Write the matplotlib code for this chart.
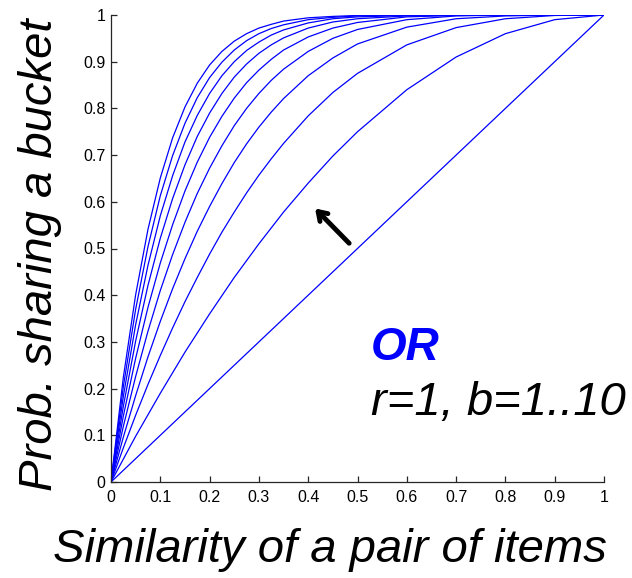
# OR-construction curves: probability of sharing a bucket, r=1, b=1..10

# libraries
import matplotlib
matplotlib.use('Agg')
import matplotlib.pyplot as plt

# similarity values (x axis)
sim = [0, 0.025, 0.05, 0.075, 0.1, 0.125, 0.15, 0.175, 0.2, 0.225, 0.25,
       0.275, 0.3, 0.325, 0.35, 0.4, 0.45, 0.5, 0.6, 0.7, 0.8, 0.9, 1.0]

# probability of sharing a bucket, one list per b
b1 = [0, .025, .05, .075, .1, .125, .15, .175, .2, .225, .25,
      .275, .3, .325, .35, .4, .45, .5, .6, .7, .8, .9, 1]
b2 = [0, .049, .098, .144, .19, .234, .278, .319, .36, .399, .438,
      .474, .51, .544, .578, .64, .698, .75, .84, .91, .96, .99, 1]
b3 = [0, .073, .143, .209, .271, .330, .386, .438, .488, .535, .578,
      .619, .657, .692, .725, .784, .834, .875, .936, .973, .992, .999, 1]
b4 = [0, .096, .185, .268, .344, .414, .478, .537, .590, .639, .684,
      .724, .760, .792, .821, .870, .908, .938, .974, .992, .998, 1, 1]
b5 = [0, .119, .226, .323, .410, .487, .556, .618, .672, .720, .763,
      .800, .832, .860, .884, .922, .950, .969, .990, .998, 1, 1, 1]
b6 = [0, .141, .265, .374, .469, .551, .623, .685, .738, .783, .822,
      .855, .882, .905, .925, .953, .972, .984, .996, .999, 1, 1, 1]
b7 = [0, .162, .302, .421, .522, .607, .679, .740, .790, .832, .867,
      .895, .918, .936, .951, .972, .985, .992, .998, 1, 1, 1, 1]
b8 = [0, .183, .337, .464, .570, .656, .728, .785, .832, .870, .900,
      .924, .942, .957, .968, .983, .992, .996, .999, 1, 1, 1, 1]
b9 = [0, .204, .370, .504, .613, .699, .768, .823, .866, .899, .925,
      .945, .960, .971, .979, .990, .995, .998, 1, 1, 1, 1, 1]
b10 = [0, .224, .401, .541, .651, .737, .803, .854, .893, .922, .944,
       .960, .972, .980, .987, .994, .997, .999, 1, 1, 1, 1, 1]
curves = [b1, b2, b3, b4, b5, b6, b7, b8, b9, b10]

ticks = [0, 0.1, 0.2, 0.3, 0.4, 0.5, 0.6, 0.7, 0.8, 0.9, 1]
tick_labels = ['0', '0.1', '0.2', '0.3', '0.4', '0.5', '0.6', '0.7', '0.8', '0.9', '1']

big = ['Liberation Sans', 'DejaVu Sans']

fig = plt.figure(figsize=(6.32, 5.78), dpi=100)
ax = fig.add_axes([111 / 632, 96 / 578, 493 / 632, 467 / 578])

for c in curves:
    ax.plot(sim, c, color='#0000ff', lw=0.9)

# axes design
ax.set_xlim(0, 1)
ax.set_ylim(0, 1)
ax.spines['top'].set_visible(False)
ax.spines['right'].set_visible(False)
for s in ['left', 'bottom']:
    ax.spines[s].set_color('#262626')
    ax.spines[s].set_linewidth(0.9)
ax.set_xticks(ticks)
ax.set_yticks(ticks)
ax.set_xticklabels(tick_labels, family=big, fontsize=11.5)
ax.set_yticklabels(tick_labels, family=big, fontsize=11.5)
ax.tick_params(direction='in', length=4, width=0.9, color='#262626', pad=4)
ax.tick_params(axis='x', pad=6)

# arrow
ax.annotate('', xy=(0.41, 0.59), xytext=(0.487, 0.507),
            arrowprops=dict(arrowstyle='->,head_length=0.6,head_width=0.4',
                            lw=3.5, color='black', capstyle='round',
                            joinstyle='round'))

# labels
ax.text(0.527, 0.287, 'OR', color='#0000ff', fontsize=33, fontweight='bold',
        fontstyle='italic', family=big, va='center', ha='left')
ax.text(0.527, 0.17, 'r=1, b=1..10', color='black', fontsize=34,
        fontstyle='italic', family=big, va='center', ha='left')
fig.text(330 / 632, 1 - 550 / 578, 'Similarity of a pair of items', fontsize=34,
         fontstyle='italic', family=big, ha='center', va='center')
fig.text(40 / 632, 1 - 255 / 578, 'Prob. sharing a bucket', fontsize=34,
         fontstyle='italic', family=big, ha='center', va='center', rotation=90)

plt.savefig('out.png', dpi=100)
